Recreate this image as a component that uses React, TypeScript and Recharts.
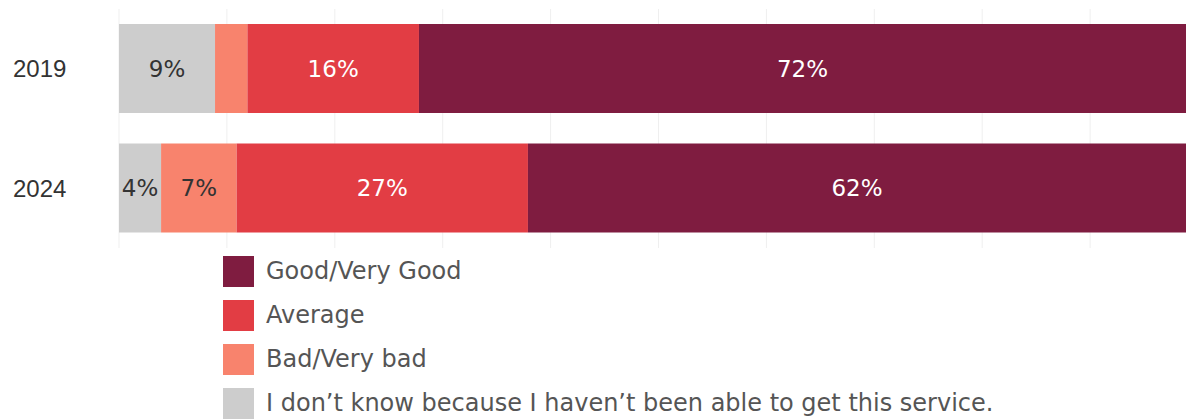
import React from 'react';
import { BarChart, Bar, XAxis, YAxis, CartesianGrid, Legend, LabelList } from 'recharts';

const years = ['2019', '2024'];
const dontKnow = [8.9, 3.9];
const bad = [3.0, 7.0];
const average = [15.9, 27.0];
const good = [72.2, 62.1];
const gridTicks = [0, 10, 20, 30, 40, 50, 60, 70, 80, 90, 100];

const series = [
  { key: 'dontKnow', name: "I don\u2019t know because I haven\u2019t been able to get this service.", color: '#cdcdcd', text: '#333333' },
  { key: 'bad', name: 'Bad/Very bad', color: '#f8836d', text: '#333333' },
  { key: 'average', name: 'Average', color: '#e23d44', text: '#ffffff' },
  { key: 'good', name: 'Good/Very Good', color: '#7f1c40', text: '#ffffff' },
];

const data = years.map((year, i) => ({
  year,
  dontKnow: dontKnow[i],
  bad: bad[i],
  average: average[i],
  good: good[i],
}));

const VISIBLE_RIGHT = 1186;

const makeLabel = (color: string) => (props: any) => {
  const { x, y, width, height, value } = props;
  if (value == null || value < 3.5) return null;
  const right = Math.min(x + width, VISIBLE_RIGHT);
  const cx = (x + right) / 2;
  return (
    <text
      x={cx}
      y={y + height / 2}
      fill={color}
      textAnchor="middle"
      dominantBaseline="central"
      style={{ fontFamily: '"DejaVu Sans", sans-serif', fontSize: 23 }}
    >
      {Math.round(value)}%
    </text>
  );
};

const YearTick = (props: any) => {
  const { y, payload } = props;
  return (
    <text
      x={13}
      y={y}
      dominantBaseline="central"
      fill="#333"
      style={{ fontFamily: '"Liberation Sans", Arial, sans-serif', fontSize: 24 }}
    >
      {payload.value}
    </text>
  );
};

const renderLegend = () => (
  <div style={{ fontFamily: '"DejaVu Sans", sans-serif', fontSize: 24, color: '#555' }}>
    {[...series].reverse().map((s) => (
      <div key={s.key} style={{ display: 'flex', alignItems: 'center', height: 44 }}>
        <div style={{ width: 31, height: 31, background: s.color, marginRight: 12 }} />
        <span>{s.name}</span>
      </div>
    ))}
  </div>
);

export default function App() {
  return (
    <div style={{ position: 'absolute', left: 0, top: 0, width: 1186, height: 419, overflow: 'hidden', background: '#fff' }}>
      <BarChart
        width={1200}
        height={419}
        data={data}
        layout="vertical"
        margin={{ top: 9, right: 2, bottom: 171, left: 0 }}
        barSize={89}
      >
        <CartesianGrid horizontal={false} stroke="#efefef" />
        <XAxis type="number" domain={[0, 100]} ticks={gridTicks} hide />
        <YAxis type="category" dataKey="year" width={119} axisLine={false} tickLine={false} tick={<YearTick />} />
        <Legend
          layout="horizontal"
          verticalAlign="middle"
          align="center"
          content={renderLegend}
          wrapperStyle={{ left: 223, top: 249, width: 900 }}
        />
        {series.map((s) => (
          <Bar key={s.key} dataKey={s.key} name={s.name} stackId="a" fill={s.color} isAnimationActive={false}>
            <LabelList dataKey={s.key} content={makeLabel(s.text)} />
          </Bar>
        ))}
      </BarChart>
    </div>
  );
}
